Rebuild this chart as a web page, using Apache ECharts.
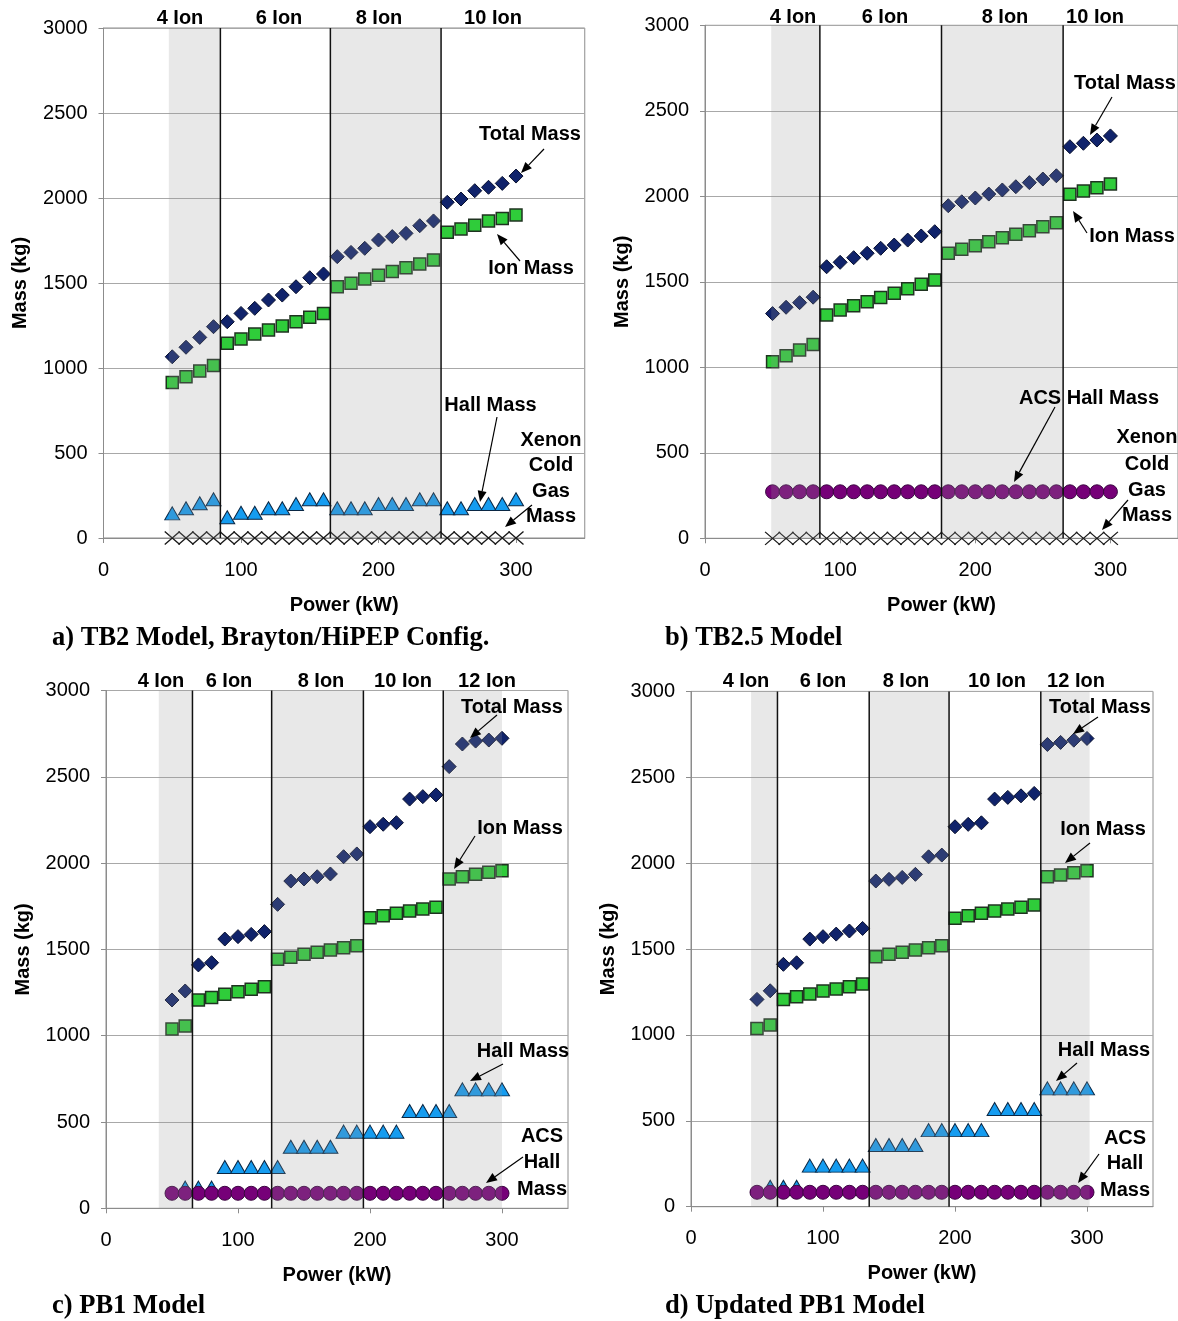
<!DOCTYPE html>
<html><head><meta charset="utf-8">
<script src="https://cdn.jsdelivr.net/npm/echarts@6/dist/echarts.min.js"></script>
<style>html,body{margin:0;padding:0;background:#fff}#c{width:1178px;height:1321px}</style>
</head><body><div id="c"></div><script>
// ---------- DATA ----------
const power = [50,60,70,80,90,100,110,120,130,140,150,160,170,180,190,200,210,220,230,240,250,260,270,280,290,300];
const yTicks = [0,500,1000,1500,2000,2500,3000];
const xTicks = [0,100,200,300];

// a) TB2 Model, Brayton/HiPEP Config.
const aTotal = [1066,1122,1180,1243,1272,1321,1351,1400,1429,1478,1531,1553,1655,1680,1704,1753,1773,1792,1837,1865,1975,1994,2043,2063,2086,2129];
const aIon   = [914,949,982,1014,1145,1171,1200,1224,1247,1272,1298,1321,1478,1498,1524,1545,1567,1590,1612,1635,1798,1818,1839,1865,1880,1900];
const aHall  = [145,175,204,228,122,149,149,175,175,200,228,228,175,175,175,200,200,200,228,228,175,175,200,200,200,228];
const aXenon = [0,0,0,0,0,0,0,0,0,0,0,0,0,0,0,0,0,0,0,0,0,0,0,0,0,0];
const aDividers = [85, 165, 245.5];
const aShade = [[47.5, 85], [165, 245.5]];
const aIonLabels = ['4 Ion','6 Ion','8 Ion','10 Ion'];

// b) TB2.5 Model
const bTotal = [1314,1351,1378,1410,1588,1614,1641,1667,1696,1715,1744,1768,1793,1945,1968,1990,2013,2037,2056,2080,2101,2120,2290,2310,2329,2353];
const bIon   = [1033,1068,1101,1134,1306,1335,1360,1384,1408,1433,1460,1485,1510,1667,1690,1711,1734,1758,1778,1799,1822,1846,2012,2031,2050,2072];
const bAcs   = [272,272,272,272,272,272,272,272,272,272,272,272,272,272,272,272,272,272,272,272,272,272,272,272,272,272];
const bXenon = [0,0,0,0,0,0,0,0,0,0,0,0,0,0,0,0,0,0,0,0,0,0,0,0,0,0];
const bDividers = [85, 175, 265];
const bShade = [[49, 85], [175, 265]];
const bIonLabels = ['4 Ion','6 Ion','8 Ion','10 Ion'];

// c) PB1 Model
const cTotal = [1207,1259,1410,1423,1560,1574,1587,1603,1761,1896,1908,1921,1937,2037,2053,2211,2225,2234,2371,2385,2395,2559,2690,2707,2713,2723];
const cIon   = [1039,1056,1207,1222,1240,1255,1269,1284,1443,1454,1472,1483,1497,1510,1521,1684,1695,1709,1722,1734,1744,1908,1921,1935,1947,1956];
const cHall  = [null,120,120,120,239,239,239,239,239,357,357,357,357,444,444,444,444,444,564,564,564,564,689,689,689,689];
const cAcs   = [87,87,87,87,87,87,87,87,87,87,87,87,87,87,87,87,87,87,87,87,87,87,87,87,87,87];
const cDividers = [65.5, 125.5, 195, 255.5];
const cShade = [[40, 65.5], [125.5, 195], [255.5, 300]];
const cIonLabels = ['4 Ion','6 Ion','8 Ion','10 Ion','12 Ion'];

// d) Updated PB1 Model
const dTotal = [1207,1257,1411,1420,1558,1572,1587,1605,1620,1896,1906,1917,1935,2037,2047,2212,2226,2235,2373,2383,2392,2406,2691,2703,2716,2726];
const dIon   = [1038,1058,1207,1222,1238,1256,1267,1281,1296,1455,1469,1481,1494,1508,1519,1679,1694,1708,1721,1733,1743,1756,1921,1931,1944,1956];
const dHall  = [null,116,116,116,239,239,239,239,239,359,359,359,359,446,446,446,446,446,569,569,569,569,689,689,689,689];
const dAcs   = [84,84,84,84,84,84,84,84,84,84,84,84,84,84,84,84,84,84,84,84,84,84,84,84,84,84];
const dDividers = [65.5, 135, 195.5, 265];
const dShade = [[45.5, 65.5], [135, 195.5], [265, 302]];
const dIonLabels = ['4 Ion','6 Ion','8 Ion','10 Ion','12 Ion'];

const captions = ['a) TB2 Model, Brayton/HiPEP Config.', 'b) TB2.5 Model', 'c) PB1 Model', 'd) Updated PB1 Model'];

// ---------- LAYOUT / STYLE ----------
const SANS = '"Liberation Sans", Arial, sans-serif';
const SERIF = '"Liberation Serif", "Times New Roman", serif';
const grids = [
  {left:103.5, top:28, width:481.25, height:510},
  {left:705, top:25.3, width:476, height:513},
  {left:106, top:690.5, width:462, height:517.8},
  {left:691, top:691.4, width:462, height:515.3}
];

const sTotal = {symbol:'diamond', symbolSize:14, itemStyle:{color:'#10236b', borderColor:'#08102e', borderWidth:1, opacity:1}};
const sIon   = {symbol:'rect', symbolSize:12, itemStyle:{color:'#2fcc3a', borderColor:'#1f3320', borderWidth:1.5, opacity:1}};
const sHall  = {symbol:'triangle', symbolSize:[15,13], itemStyle:{color:'#159cf0', borderColor:'#0a2744', borderWidth:1, opacity:1}};
const sAcs   = {symbol:'circle', symbolSize:14, itemStyle:{color:'#760078', borderColor:'#3a0840', borderWidth:1, opacity:1}};
const sXe    = {symbol:'path://M0,0L10,10M10,0L0,10', symbolSize:[15,13], itemStyle:{color:'rgba(0,0,0,0)', borderColor:'#1a1a1a', borderWidth:1.2, opacity:1}};

function pts(vals){ return power.map((p,i)=>[p, vals[i]]).filter(d=>d[1]!=null); }

const xAxes = [], yAxes = [], series = [];
grids.forEach((g,i)=>{
  g.show = true; g.borderColor = '#8c8c8c'; g.borderWidth = 1; g.containLabel = false;
  xAxes.push({type:'value', gridIndex:i, min:xTicks[0], max:350, interval:100,
    name:'Power (kW)', nameLocation:'middle', nameGap:57,
    nameTextStyle:{fontFamily:SANS, fontWeight:'bold', fontSize:20, color:'#000'},
    axisLine:{show:true, onZero:false, lineStyle:{color:'#8c8c8c'}},
    axisTick:{show:true, length:5, lineStyle:{color:'#8c8c8c'}},
    axisLabel:{fontFamily:SANS, fontSize:20, color:'#000', margin:22, showMaxLabel:false, formatter:v=>String(v)},
    splitLine:{show:false}});
  yAxes.push({type:'value', gridIndex:i, min:yTicks[0], max:yTicks[yTicks.length-1], interval:500,
    name:'Mass (kg)', nameLocation:'middle', nameGap:73, nameRotate:90,
    nameTextStyle:{fontFamily:SANS, fontWeight:'bold', fontSize:20, color:'#000'},
    axisLine:{show:true, lineStyle:{color:'#8c8c8c'}},
    axisTick:{show:true, length:5, lineStyle:{color:'#8c8c8c'}},
    axisLabel:{fontFamily:SANS, fontSize:20, color:'#000', margin:16, formatter:v=>String(v)},
    splitLine:{show:true, lineStyle:{color:'#a8a8a8', width:1}}});
});

function sc(i, name, vals, st, z){
  series.push(Object.assign({type:'scatter', name, xAxisIndex:i, yAxisIndex:i, data:pts(vals),
    silent:true, z:z||2, emphasis:{disabled:true}, animation:false}, JSON.parse(JSON.stringify(st))));
}
function shade(i, ranges){
  series.push({type:'custom', xAxisIndex:i, yAxisIndex:i, data:ranges, silent:true, z:6, animation:false,
    renderItem:(params, api)=>{
      const p0 = api.coord([api.value(0), 3000]);
      const p1 = api.coord([api.value(1), 0]);
      return {type:'rect', shape:{x:p0[0], y:p0[1], width:p1[0]-p0[0], height:p1[1]-p0[1]},
        style:{fill:'rgba(148,148,148,0.22)'}};
    }});
}
function dividers(i, xs){
  series.push({type:'custom', xAxisIndex:i, yAxisIndex:i, data:xs.map(v=>[v]), silent:true, z:7, animation:false,
    renderItem:(params, api)=>{
      const p0 = api.coord([api.value(0), 3000]);
      const p1 = api.coord([api.value(0), 0]);
      return {type:'line', shape:{x1:p0[0], y1:p0[1], x2:p1[0], y2:p1[1]},
        style:{stroke:'#111', lineWidth:1.5}};
    }});
}

// a
sc(0,'Total Mass',aTotal,sTotal,3); sc(0,'Ion Mass',aIon,sIon,3); sc(0,'Hall Mass',aHall,sHall,4); sc(0,'Xenon Cold Gas Mass',aXenon,sXe,5);
shade(0,aShade); dividers(0,aDividers);
// b
sc(1,'Total Mass',bTotal,sTotal,3); sc(1,'Ion Mass',bIon,sIon,3); sc(1,'ACS Hall Mass',bAcs,sAcs,4); sc(1,'Xenon Cold Gas Mass',bXenon,sXe,5);
shade(1,bShade); dividers(1,bDividers);
// c
sc(2,'Total Mass',cTotal,sTotal,3); sc(2,'Ion Mass',cIon,sIon,3); sc(2,'Hall Mass',cHall,sHall,4); sc(2,'ACS Hall Mass',cAcs,sAcs,5);
shade(2,cShade); dividers(2,cDividers);
// d
sc(3,'Total Mass',dTotal,sTotal,3); sc(3,'Ion Mass',dIon,sIon,3); sc(3,'Hall Mass',dHall,sHall,4); sc(3,'ACS Hall Mass',dAcs,sAcs,5);
shade(3,dShade); dividers(3,dDividers);

// ---------- ANNOTATIONS ----------
const graphics = [];
function txt(t, x, y, opts){
  opts = opts || {};
  graphics.push({type:'text', x, y, z:100, silent:true,
    style:{text:t, fill:'#000', font:opts.font || ('bold 20px ' + SANS),
      align:opts.align||'center', textAlign:opts.align||'center',
      verticalAlign:'middle', textVerticalAlign:'middle'}});
}
function arrow(x1,y1,x2,y2){
  const ang = Math.atan2(y2-y1, x2-x1);
  const L = 11, W = 4.5;
  const bx = x2 - L*Math.cos(ang), by = y2 - L*Math.sin(ang);
  const px = -Math.sin(ang)*W, py = Math.cos(ang)*W;
  graphics.push({type:'line', z:100, silent:true, shape:{x1, y1, x2:bx, y2:by}, style:{stroke:'#000', lineWidth:1.2}});
  graphics.push({type:'polygon', z:100, silent:true, shape:{points:[[x2,y2],[bx+px,by+py],[bx-px,by-py]]}, style:{fill:'#000'}});
}

// ion group labels
[[aIonLabels,[180,279,379,493],18],[bIonLabels,[793,885,1005,1095],17],
 [cIonLabels,[161,229,321,403,487],681],[dIonLabels,[746,823,906,997,1076],681]].forEach(([labs,xs,y])=>{
  labs.forEach((l,k)=>txt(l, xs[k], y));
});

// panel a
txt('Total Mass',530,134); arrow(544,149,521,173);
txt('Ion Mass',531,268); arrow(520,261,497,234);
txt('Hall Mass',490.5,405); arrow(497,417,480,502);
txt('Xenon',551,440); txt('Cold',551,465); txt('Gas',551,491); txt('Mass',551,516); arrow(532,505,505,527);
// panel b
txt('Total Mass',1125,83); arrow(1112,97,1090,135);
txt('Ion Mass',1132,236); arrow(1087,233,1073,211);
txt('ACS Hall Mass',1089,398); arrow(1055,407,1014,482);
txt('Xenon',1147,437); txt('Cold',1147,464); txt('Gas',1147,490); txt('Mass',1147,515); arrow(1128,500,1102,530);
// panel c
txt('Total Mass',512,707); arrow(497,715,470,738);
txt('Ion Mass',520,828); arrow(475,836,454,869);
txt('Hall Mass',523,1051); arrow(503,1064,470,1081);
txt('ACS',542,1136); txt('Hall',542,1162); txt('Mass',542,1189); arrow(523,1157,486,1183);
// panel d
txt('Total Mass',1100,707); arrow(1098,717,1073,734);
txt('Ion Mass',1103,829); arrow(1090,843,1065,863);
txt('Hall Mass',1104,1050); arrow(1077,1063,1056,1081);
txt('ACS',1125,1138); txt('Hall',1125,1163); txt('Mass',1125,1190); arrow(1099,1154,1078,1183);

// captions
const capFont = 'bold 26.5px ' + SERIF;
txt(captions[0],52,638,{align:'left', font:capFont});
txt(captions[1],665,638,{align:'left', font:capFont});
txt(captions[2],52,1306,{align:'left', font:capFont});
txt(captions[3],665,1306,{align:'left', font:capFont});

const chart = echarts.init(document.getElementById('c'), null, {renderer:'canvas'});
chart.setOption({
  animation:false,
  backgroundColor:'#fff',
  grid:grids, xAxis:xAxes, yAxis:yAxes, series,
  graphic:{elements:graphics}
});
</script></body></html>
